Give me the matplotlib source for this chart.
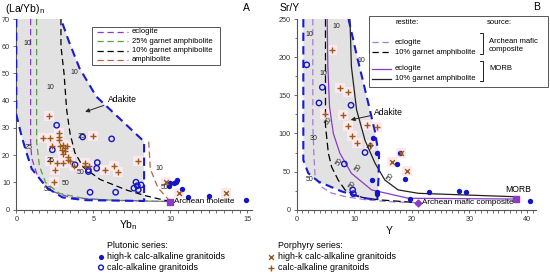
import matplotlib
matplotlib.use("Agg")
import matplotlib.pyplot as plt
import numpy as np

plt.rcParams['font.family'] = ['Liberation Sans', 'DejaVu Sans']

# ---------------- Panel A data ----------------
A_plut_hk_x = [9.94, 9.98, 10.24, 10.37, 10.41, 10.74, 11.17, 12.53, 14.92]
A_plut_hk_y = [8.85, 9.7, 9.7, 10.3, 10.8, 7.6, 4.8, 5.0, 3.6]
A_plut_ca_x = [2.62, 2.34, 4.31, 6.19, 3.81, 4.68, 4.68, 5.26, 5.22, 4.79, 6.45, 7.77, 7.86, 7.64, 7.92, 8.10]
A_plut_ca_y = [31.0, 22.0, 26.7, 26.0, 16.5, 14.6, 14.0, 17.3, 15.2, 6.4, 6.4, 10.1, 8.8, 7.9, 7.3, 9.1]
A_por_hk_x = [9.70, 10.55, 13.62]
A_por_hk_y = [10.3, 6.3, 6.3]
A_por_ca_x = [2.12, 1.75, 2.19, 2.79, 2.79, 2.79, 5.0, 2.30, 2.84, 3.05, 3.16, 2.95, 3.16, 3.27,
              3.05, 3.38, 3.38, 3.49, 2.19, 2.62, 3.01, 2.51, 2.45, 4.46, 4.74, 4.46, 5.76, 6.34,
              6.62, 7.92, 3.75]
A_por_ca_y = [34.5, 26.3, 26.3, 28.1, 26.8, 25.5, 26.9, 23.2, 23.2, 23.8, 22.6, 22.0, 21.6, 23.2,
              20.5, 19.5, 18.3, 17.7, 17.7, 17.3, 17.3, 14.6, 10.3, 17.1, 16.2, 16.0, 14.6, 16.2,
              13.8, 17.7, 16.2]

A_field_x = [0, 0, 0.3, 0.6, 1.0, 2.0, 3.0, 4.5, 8.3, 8.3, 5.2, 4.1, 3.4, 2.9]
A_field_y = [70, 35, 28, 22, 15, 8, 4.5, 3.5, 3.2, 25, 41.5, 52, 62, 70]

A_ecl_x = [0.93, 0.93, 1.0, 1.4, 2.2, 3.5, 6.0, 10.0]
A_ecl_y = [70, 25, 19, 12, 7, 4.5, 3.5, 3.0]
A_g25_x = [1.32, 1.32, 1.5, 1.9, 2.8, 4.5, 7.0, 10.0]
A_g25_y = [70, 25, 16, 10, 6, 4, 3.3, 3.0]
A_g10_x = [2.9, 2.9, 3.1, 3.27, 3.49, 3.8, 4.35, 5.44, 7.17, 8.47, 10.0]
A_g10_y = [70, 60, 50, 36.7, 28, 21, 15.6, 11.1, 7.2, 5.0, 3.0]
A_amp_x = [8.6, 8.7, 9.2, 10.0]
A_amp_y = [25, 15, 8, 3.0]

A_src_x, A_src_y = 10.0, 2.9

# ---------------- Panel B data ----------------
B_plut_hk_x = [13.3, 13.9, 13.0, 13.9, 13.9, 17.4, 17.9, 18.8, 19.7, 22.9, 28.2, 29.4, 40.5]
B_plut_hk_y = [93.6, 74, 39, 23.6, 21, 60, 74, 40, 14, 22.8, 24.5, 22.8, 11]
B_plut_ca_x = [1.74, 4.45, 3.87, 9.43, 11.86, 8.27, 9.72, 9.83]
B_plut_ca_y = [190, 160.5, 140, 137, 75, 60, 26, 21]
B_por_hk_x = [18.1, 16.6, 19.2]
B_por_hk_y = [74, 63, 51]
B_por_ca_x = [6.07, 7.5, 8.96, 4.9, 7.98, 8.96, 9.55, 10.4, 12.15, 13.9, 12.7]
B_por_ca_y = [209, 159, 155, 126, 124, 110, 97, 88, 111, 108, 85]

B_field_x = [1.15, 1.15, 2.0, 3.75, 7.8, 11.9, 14.0, 14.2, 14.3, 13.6, 12.7, 11.6, 10.5, 9.0]
B_field_y = [250, 65, 48, 37, 24, 15, 13, 40, 70, 102, 131, 166, 200, 250]

B_aecl_x = [2.8, 2.8, 3.0, 3.2, 4.3, 6.0, 8.5, 12.0, 16.0, 21.0]
B_aecl_y = [250, 110, 70, 43, 30, 22, 17, 13, 10.5, 9.2]
B_ag10_x = [5.0, 5.0, 5.5, 6.07, 7.2, 8.4, 10.0, 12.0, 14.76, 21.0]
B_ag10_y = [250, 110, 74, 56, 39, 26, 19, 15, 12.7, 9.2]
B_mecl_x = [5.3, 5.4, 5.7, 6.36, 7.5, 9.5, 13.0, 19.4, 38.0]
B_mecl_y = [250, 190, 135, 100, 74, 47.7, 26, 15, 14]
B_mg10_x = [9.25, 9.5, 10.4, 11.86, 13.6, 15.3, 17.6, 21.1, 38.0]
B_mg10_y = [250, 187.6, 131, 91, 61, 39, 26, 21.5, 17]

B_arc_x, B_arc_y = 21.0, 9.2
B_morb_x, B_morb_y = 38.0, 14.0

# ---------------- styling ----------------
W, H = 550, 276
BLUE = '#1414c8'
FIELD_EDGE = '#1a1ad0'
GRAY = '#e2e2e2'
BROWN = '#9a5a1a'
PINK = '#fce9ee'
PURPLE = '#8a3cc8'
PURPLE_L = '#a27ad8'
GREEN = '#5aa04a'
AMPH = '#c0603a'
AXC = '#555555'

fig = plt.figure(figsize=(W / 100, H / 100), dpi=100)


def ax_at(left_px, right_px, top_px, bottom_px):
    return fig.add_axes([left_px / W, (H - bottom_px) / H,
                         (right_px - left_px) / W, (bottom_px - top_px) / H])


def style_axes(ax):
    for s in ['top', 'right']:
        ax.spines[s].set_visible(False)
    for s in ['left', 'bottom']:
        ax.spines[s].set_color(AXC)
        ax.spines[s].set_linewidth(0.8)
    ax.tick_params(axis='both', which='both', colors=AXC, labelsize=5.2,
                   labelcolor='#333333', length=2.5, width=0.6, pad=2)
    ax.tick_params(axis='both', which='minor', length=1.8)
    ax.patch.set_alpha(0)


def dash(ax, x, y, color, lw=0.9, dashes=(5, 3), z=3):
    ax.plot(x, y, color=color, lw=lw, dashes=dashes, zorder=z)


def markers(ax, phx, phy, pcx, pcy, rhx, rhy, rcx, rcy):
    ax.scatter(rcx + rhx, rcy + rhy, marker='s', s=55, color=PINK, lw=0, zorder=2)
    ax.scatter(phx, phy, s=15, color=BLUE, lw=0, zorder=6)
    ax.scatter(pcx, pcy, s=15, facecolor='none', edgecolor=BLUE, lw=1.0, zorder=6)
    ax.scatter(rhx, rhy, marker='x', s=12, color=BROWN, lw=1.0, zorder=7)
    ax.scatter(rcx, rcy, marker='+', s=18, color=BROWN, lw=1.0, zorder=7)


# ---------------- Panel A ----------------
axA = ax_at(16.3, 251.9, 19.0, 209.7)
style_axes(axA)
axA.set_xlim(0, 15.3)
axA.set_ylim(0, 70)
axA.set_xticks([0, 5, 10, 15])
axA.set_xticks(np.arange(0, 15.3, 0.5), minor=True)
axA.set_yticks(np.arange(0, 71, 10))

axA.fill(A_field_x, A_field_y, color=GRAY, lw=0, zorder=1)
axA.plot(A_field_x, A_field_y, color=FIELD_EDGE, lw=1.5, dashes=(4, 2.5), zorder=4)
dash(axA, A_ecl_x, A_ecl_y, PURPLE)
dash(axA, A_g25_x, A_g25_y, GREEN)
dash(axA, A_g10_x, A_g10_y, 'black')
dash(axA, A_amp_x, A_amp_y, AMPH)
markers(axA, A_plut_hk_x, A_plut_hk_y, A_plut_ca_x, A_plut_ca_y,
        A_por_hk_x, A_por_hk_y, A_por_ca_x, A_por_ca_y)
axA.scatter([A_src_x], [A_src_y], marker='s', s=16, color=PURPLE, zorder=8)
axA.text(A_src_x + 0.25, A_src_y, 'Archean tholeiite', fontsize=5.9, va='center', ha='left', zorder=9)

labsA = [(0.45, 61, '10'), (0.55, 23, '25'), (1.75, 7.5, '50'),
         (1.95, 45, '10'), (1.95, 18, '25'), (2.95, 9.5, '50'),
         (3.55, 50.5, '10'), (4.0, 27, '25'), (3.9, 13.5, '50'),
         (9.05, 15.2, '10'), (9.35, 8.0, '50')]
for x, y, t in labsA:
    axA.text(x, y, t, fontsize=5, ha='left', va='center', color='#222222', zorder=9)

axA.text(5.97, 40.5, 'Adakite', fontsize=6.2, ha='left', va='center', zorder=9)
axA.annotate('', xy=(4.3, 35.6), xytext=(5.85, 38.6),
             arrowprops=dict(arrowstyle='-|>', color='#222222', lw=0.7, mutation_scale=6), zorder=9)

# ---------------- Panel B ----------------
axB = ax_at(296.7, 535.7, 19.1, 209.7)
style_axes(axB)
axB.set_xlim(0, 41.5)
axB.set_ylim(0, 250)
axB.set_xticks([0, 10, 20, 30, 40])
axB.set_xticks(np.arange(0, 41.5, 1), minor=True)
axB.set_yticks(np.arange(0, 251, 50))
axB.set_yticks(np.arange(0, 251, 25), minor=True)

axB.fill(B_field_x, B_field_y, color=GRAY, lw=0, zorder=1)
axB.plot(B_field_x, B_field_y, color=FIELD_EDGE, lw=1.5, dashes=(4, 2.5), zorder=4)
dash(axB, B_aecl_x, B_aecl_y, PURPLE_L)
dash(axB, B_ag10_x, B_ag10_y, 'black', dashes=(6, 3))
axB.plot(B_mecl_x, B_mecl_y, color=PURPLE, lw=0.9, zorder=3)
axB.plot(B_mg10_x, B_mg10_y, color='#222222', lw=0.9, zorder=3)
markers(axB, B_plut_hk_x, B_plut_hk_y, B_plut_ca_x, B_plut_ca_y,
        B_por_hk_x, B_por_hk_y, B_por_ca_x, B_por_ca_y)
axB.scatter([B_arc_x], [B_arc_y], marker='D', s=12, color=PURPLE, zorder=8)
axB.text(B_arc_x + 0.7, B_arc_y, 'Archean mafic composite', fontsize=5.9, va='center', ha='left', zorder=9)
axB.scatter([B_morb_x], [B_morb_y], marker='s', s=16, color=PURPLE, zorder=8)
axB.text(36.2, 27, 'MORB', fontsize=6.2, va='center', ha='left', zorder=9)

labsB = [(1.5, 230, '10', 0), (6.2, 240, '10', 0), (10.5, 196, '10', 0), (3.9, 178, '10', 0),
         (2.2, 94, '30', 0), (1.6, 40, '50', 0), (4.6, 116, '50', 55), (6.6, 63, '50', 55),
         (9.9, 55, '50', 55), (8.8, 32, '50', 55), (12.2, 83, '50', 55), (15.4, 43, '50', 55)]
for x, y, t, r in labsB:
    axB.text(x, y, t, fontsize=5, ha='left', va='center', rotation=r, color='#222222', zorder=9)

axB.text(13.4, 127, 'Adakite', fontsize=6.2, ha='left', va='center', zorder=9)
axB.annotate('', xy=(8.9, 117), xytext=(13.2, 124),
             arrowprops=dict(arrowstyle='-|>', color='#222222', lw=0.7, mutation_scale=6), zorder=9)

# ---------------- overlay (pixel coordinates) ----------------
ov = fig.add_axes([0, 0, 1, 1])
ov.set_xlim(0, W)
ov.set_ylim(H, 0)
ov.axis('off')
ov.patch.set_alpha(0)

# axis titles and panel letters
ov.text(5, 9, '(La/Yb)$_{\\rm n}$', fontsize=7.5, ha='left', va='center')
ov.text(128, 225, 'Yb$_{\\rm n}$', fontsize=7.5, ha='center', va='center')
ov.text(243, 8, 'A', fontsize=7.5, ha='left', va='center')
ov.text(280, 8, 'Sr/Y', fontsize=7.5, ha='left', va='center')
ov.text(389, 231, 'Y', fontsize=7.5, ha='center', va='center')
ov.text(533, 7, 'B', fontsize=7.5, ha='left', va='center')

# legend A
ov.add_patch(plt.Rectangle((92, 27), 128, 38, fill=True, facecolor='white',
                           edgecolor='#555555', lw=0.7, zorder=10))
legA = [('eclogite', PURPLE), ('25% garnet amphibolite', GREEN),
        ('10% garnet amphibolite', 'black'), ('amphibolite', AMPH)]
for i, (t, c) in enumerate(legA):
    yy = 31.7 + i * 9.4
    ov.plot([97, 128], [yy, yy], color=c, lw=0.9, dashes=(5, 3), zorder=11)
    ov.text(132, yy, t, fontsize=5.5, ha='left', va='center', zorder=11)

# legend B
ov.add_patch(plt.Rectangle((369, 16), 179, 71, fill=True, facecolor='white',
                           edgecolor='#555555', lw=0.7, zorder=10))
ov.text(395, 22, 'restite:', fontsize=5.5, ha='left', va='center', zorder=11)
ov.text(487, 22, 'source:', fontsize=5.5, ha='left', va='center', zorder=11)
legB = [(42, 'eclogite', PURPLE_L, True), (52, '10% garnet amphibolite', 'black', True),
        (69, 'eclogite', PURPLE, False), (79, '10% garnet amphibolite', '#222222', False)]
for yy, t, c, d in legB:
    if d:
        ov.plot([372, 391], [yy, yy], color=c, lw=0.9, dashes=(5, 3), zorder=11)
    else:
        ov.plot([372, 391], [yy, yy], color=c, lw=0.9, zorder=11)
    ov.text(395, yy, t, fontsize=5.5, ha='left', va='center', zorder=11)
for y0, y1 in [(33, 54), (61, 81)]:
    ov.plot([480, 483, 483, 480], [y0, y0, y1, y1], color='#222222', lw=0.7, zorder=11)
ov.text(489, 45.5, 'Archean mafic\ncomposite', fontsize=5.5, ha='left', va='center',
        linespacing=1.2, zorder=11)
ov.text(489, 69, 'MORB', fontsize=5.5, ha='left', va='center', zorder=11)

# bottom legend
ov.text(107, 245, 'Plutonic series:', fontsize=6.4, ha='left', va='center')
ov.scatter([101], [256.5], s=14, color=BLUE, lw=0)
ov.text(107, 256.5, 'high-k calc-alkaline granitoids', fontsize=6.4, ha='left', va='center')
ov.scatter([101], [267.5], s=12, facecolor='none', edgecolor=BLUE, lw=1.0)
ov.text(107, 267.5, 'calc-alkaline granitoids', fontsize=6.4, ha='left', va='center')

ov.text(278, 245, 'Porphyry series:', fontsize=6.4, ha='left', va='center')
ov.scatter([271], [256.5], marker='x', s=12, color=BROWN, lw=1.0)
ov.text(278, 256.5, 'high-k calc-alkaline granitoids', fontsize=6.4, ha='left', va='center')
ov.scatter([271], [268], marker='+', s=18, color=BROWN, lw=1.0)
ov.text(278, 267.5, 'calc-alkaline granitoids', fontsize=6.4, ha='left', va='center')

fig.savefig('out.png', dpi=100)
